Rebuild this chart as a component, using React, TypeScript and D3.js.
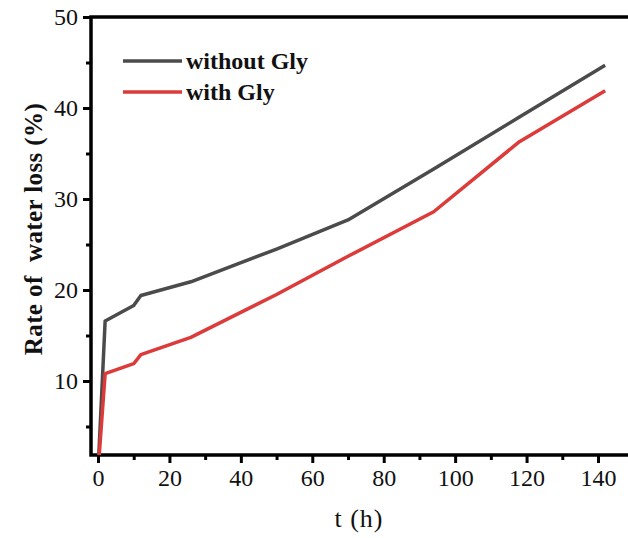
import React, { useEffect, useRef } from "react";
import * as d3 from "d3";

// readings
const timeWithout = [0, 2, 10, 12, 26, 50, 70, 94, 118, 142];
const lossWithout = [0, 16.6, 18.3, 19.4, 20.9, 24.5, 27.7, 33.3, 39.0, 44.7];
const timeWith = [0, 2, 10, 12, 26, 50, 70, 94, 118, 142];
const lossWith = [0, 10.8, 11.9, 12.9, 14.8, 19.5, 23.7, 28.6, 36.3, 41.9];

const xTicks = [0, 20, 40, 60, 80, 100, 120, 140];
const yTicks = [10, 20, 30, 40, 50];
const seriesNames = ["without Gly", "with Gly"];
const seriesColors = ["#4b4b4b", "#dd3a3a"];

const font = "'Liberation Serif', 'Times New Roman', serif";

const App = () => {
    const ref = useRef<SVGSVGElement>(null);

    useEffect(() => {
        const svg = d3.select(ref.current);
        svg.selectAll("*").remove();

        const width = 628;
        const height = 538;
        const left = 91, top = 17, bottom = 455;

        const x = d3.scaleLinear().domain([0, 140]).range([98, 598]);
        const y = d3.scaleLinear().domain([10, 50]).range([381, 17]);

        svg.append("defs").append("clipPath").attr("id", "plot")
            .append("rect")
            .attr("x", left).attr("y", top)
            .attr("width", width - left).attr("height", bottom - top);

        // x axis
        const xAxis = svg.append("g")
            .attr("transform", `translate(0,${bottom})`)
            .call(d3.axisBottom(x).tickValues(xTicks).tickSize(8).tickPadding(6).tickFormat(d3.format("d")));
        xAxis.select(".domain").remove();
        xAxis.selectAll("line").attr("stroke", "#000").attr("stroke-width", 3);
        xAxis.selectAll("text")
            .attr("font-family", font).attr("font-size", 24).attr("fill", "#111");

        svg.append("g")
            .attr("transform", `translate(0,${bottom})`)
            .call(d3.axisBottom(x).tickValues(d3.range(10, 150, 20)).tickSize(5).tickFormat(() => ""))
            .call((g) => g.select(".domain").remove())
            .selectAll("line").attr("stroke", "#000").attr("stroke-width", 3);

        // y axis
        const yAxis = svg.append("g")
            .attr("transform", `translate(${left},0)`)
            .call(d3.axisLeft(y).tickValues(yTicks).tickSize(8).tickPadding(5).tickFormat(d3.format("d")));
        yAxis.select(".domain").remove();
        yAxis.selectAll("line").attr("stroke", "#000").attr("stroke-width", 3);
        yAxis.selectAll("text")
            .attr("font-family", font).attr("font-size", 24).attr("fill", "#111");

        svg.append("g")
            .attr("transform", `translate(${left},0)`)
            .call(d3.axisLeft(y).tickValues([5, 15, 25, 35, 45]).tickSize(5).tickFormat(() => ""))
            .call((g) => g.select(".domain").remove())
            .selectAll("line").attr("stroke", "#000").attr("stroke-width", 3);

        // frame: left, bottom, top
        svg.append("path")
            .attr("d", `M${width},${top}H${left}V${bottom}H${width}`)
            .attr("fill", "none")
            .attr("stroke", "#000")
            .attr("stroke-width", 3.5);

        const line = d3.line<[number, number]>()
            .x((d) => x(d[0]))
            .y((d) => y(d[1]));

        const series = [
            d3.zip(timeWithout, lossWithout) as [number, number][],
            d3.zip(timeWith, lossWith) as [number, number][],
        ];

        const plot = svg.append("g").attr("clip-path", "url(#plot)");
        series.forEach((s, i) => {
            plot.append("path")
                .datum(s)
                .attr("fill", "none")
                .attr("stroke", seriesColors[i])
                .attr("stroke-width", 3.5)
                .attr("stroke-linejoin", "round")
                .attr("d", line);
        });

        // legend
        seriesNames.forEach((name, i) => {
            const ly = 61 + i * 31;
            svg.append("line")
                .attr("x1", 123).attr("x2", 182)
                .attr("y1", ly).attr("y2", ly)
                .attr("stroke", seriesColors[i])
                .attr("stroke-width", 3.5);
            svg.append("text")
                .attr("x", 186).attr("y", ly + 8)
                .attr("font-family", font).attr("font-size", 24).attr("font-weight", "bold")
                .attr("fill", "#111")
                .text(name);
        });

        // axis titles
        svg.append("text")
            .attr("transform", `translate(42,229) rotate(-90)`)
            .attr("text-anchor", "middle")
            .attr("font-family", font).attr("font-size", 25).attr("font-weight", "bold")
            .attr("letter-spacing", 0.4)
            .attr("fill", "#111")
            .style("white-space", "pre")
            .text("Rate of  water loss (%)");

        svg.append("text")
            .attr("x", 359).attr("y", 527)
            .attr("text-anchor", "middle")
            .attr("font-family", font).attr("font-size", 26)
            .attr("letter-spacing", 1)
            .attr("fill", "#111")
            .text("t (h)");
    }, []);

    return (
        <svg
            ref={ref}
            width={628}
            height={538}
            style={{ position: "absolute", left: 0, top: 0, background: "#fff" }}
        />
    );
};

export default App;
